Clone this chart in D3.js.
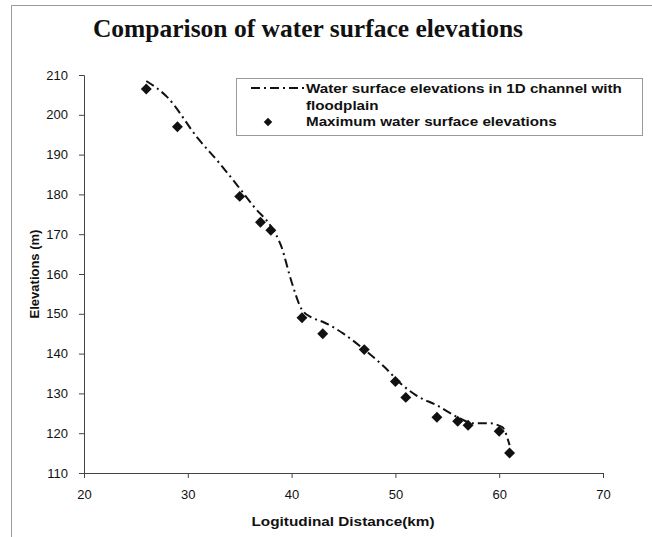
<!DOCTYPE html>
<html>
<head>
<meta charset="utf-8">
<script src="https://cdn.jsdelivr.net/npm/d3@7"></script>
<style>
  body { margin: 0; background: #fff; }
  svg { display: block; }
  .tick text { font-family: "Liberation Sans", Arial, sans-serif; font-size: 13px; fill: #111; }
</style>
</head>
<body>
<svg></svg>
<script>
const width = 652;
const height = 537;

// maximum water surface elevations (observed points)
const pointDist = [26, 29, 35, 37, 38, 41, 43, 47, 50, 51, 54, 56, 57, 60, 61];
const pointElev = [206.5, 197, 179.5, 173, 171, 149, 145, 141, 133, 129, 124, 123, 122, 120.5, 115];

// water surface elevations in 1D channel with floodplain (model line)
const lineDist = [26, 28, 31, 33, 35, 36.5, 38, 39, 40, 41, 42, 43, 45, 47, 49, 50.5, 52, 54, 56, 57.5, 59, 60.3, 61];
const lineElev = [208.5, 204.5, 194, 188, 181.5, 176.5, 172, 167, 158, 151, 149, 148, 145, 141, 136.5, 132.5, 129.5, 127, 124, 122.5, 122.5, 121.5, 117];

const xTicks = [20, 30, 40, 50, 60, 70];
const yTicks = [110, 120, 130, 140, 150, 160, 170, 180, 190, 200, 210];

const margin = {top: 75, right: 49, bottom: 64, left: 84};

const svg = d3.select("svg")
              .attr("width", width)
              .attr("height", height);

// outer frame (scanned figure border)
svg.append("path")
   .attr("d", "M11.5," + height + "V5.5H" + width)
   .attr("fill", "none")
   .attr("stroke", "#999")
   .attr("stroke-width", 1);

const x = d3.scaleLinear()
            .domain([20, 70])
            .range([margin.left, width - margin.right]);

const y = d3.scaleLinear()
            .domain([110, 210])
            .range([height - margin.bottom, margin.top]);

svg.append("g")
   .attr("transform", "translate(0," + (height - margin.bottom) + ")")
   .call(d3.axisBottom(x).tickValues(xTicks).tickSize(5).tickPadding(12))
   .call(g => g.selectAll("line, path").attr("stroke", "#444"));

svg.append("g")
   .attr("transform", "translate(" + margin.left + ",0)")
   .call(d3.axisLeft(y).tickValues(yTicks).tickSize(5).tickPadding(11))
   .call(g => g.selectAll("line, path").attr("stroke", "#444"));

// title
svg.append("text")
   .attr("x", 308)
   .attr("y", 37)
   .attr("text-anchor", "middle")
   .style("font-family", "'Liberation Serif', 'Times New Roman', serif")
   .style("font-weight", "bold")
   .style("font-size", "25.5px")
   .style("fill", "#111")
   .text("Comparison of water surface elevations");

// the scan is a little stretched sideways, so horizontal sans text gets a scaleX
svg.append("text")
   .attr("transform", "translate(343,526) scale(1.18,1)")
   .attr("text-anchor", "middle")
   .style("font-family", "'Liberation Sans', Arial, sans-serif")
   .style("font-weight", "bold")
   .style("font-size", "13px")
   .style("fill", "#111")
   .text("Logitudinal Distance(km)");

svg.append("text")
   .attr("transform", "translate(39," + y(160) + ") rotate(-90)")
   .attr("text-anchor", "middle")
   .style("font-family", "'Liberation Sans', Arial, sans-serif")
   .style("font-weight", "bold")
   .style("font-size", "13px")
   .style("fill", "#111")
   .text("Elevations (m)");

const dash = "9,4,2,4";

const lineData = lineDist.map((d, i) => [d, lineElev[i]]);
const line = d3.line()
               .x(d => x(d[0]))
               .y(d => y(d[1]))
               .curve(d3.curveMonotoneX);

svg.append("path")
   .datum(lineData)
   .attr("d", line)
   .attr("fill", "none")
   .attr("stroke", "#111")
   .attr("stroke-width", 2)
   .attr("stroke-dasharray", dash);

const diamond = d3.symbol().type(d3.symbolSquare).size(60);

svg.append("g")
   .selectAll("path")
   .data(pointDist.map((d, i) => [d, pointElev[i]]))
   .enter()
   .append("path")
   .attr("d", diamond)
   .attr("transform", d => "translate(" + x(d[0]) + "," + y(d[1]) + ") rotate(45)")
   .style("fill", "#111");

// legend
const legend = svg.append("g");

legend.append("rect")
      .attr("x", 236.5)
      .attr("y", 78.5)
      .attr("width", 406)
      .attr("height", 57)
      .attr("fill", "#fff")
      .attr("stroke", "#999");

legend.append("line")
      .attr("x1", 251)
      .attr("x2", 305)
      .attr("y1", 88)
      .attr("y2", 88)
      .attr("stroke", "#111")
      .attr("stroke-width", 2)
      .attr("stroke-dasharray", dash);

legend.append("path")
      .attr("d", d3.symbol().type(d3.symbolSquare).size(36))
      .attr("transform", "translate(268,122) rotate(45)")
      .style("fill", "#111");

const legendText = [
  {t: "Water surface elevations in 1D channel with", y: 93},
  {t: "floodplain", y: 110},
  {t: "Maximum water surface elevations", y: 126}
];

legend.selectAll("text")
      .data(legendText)
      .enter()
      .append("text")
      .attr("transform", d => "translate(306," + d.y + ") scale(1.17,1)")
      .style("font-family", "'Liberation Sans', Arial, sans-serif")
      .style("font-weight", "bold")
      .style("font-size", "13px")
      .style("fill", "#111")
      .text(d => d.t);
</script>
</body>
</html>
